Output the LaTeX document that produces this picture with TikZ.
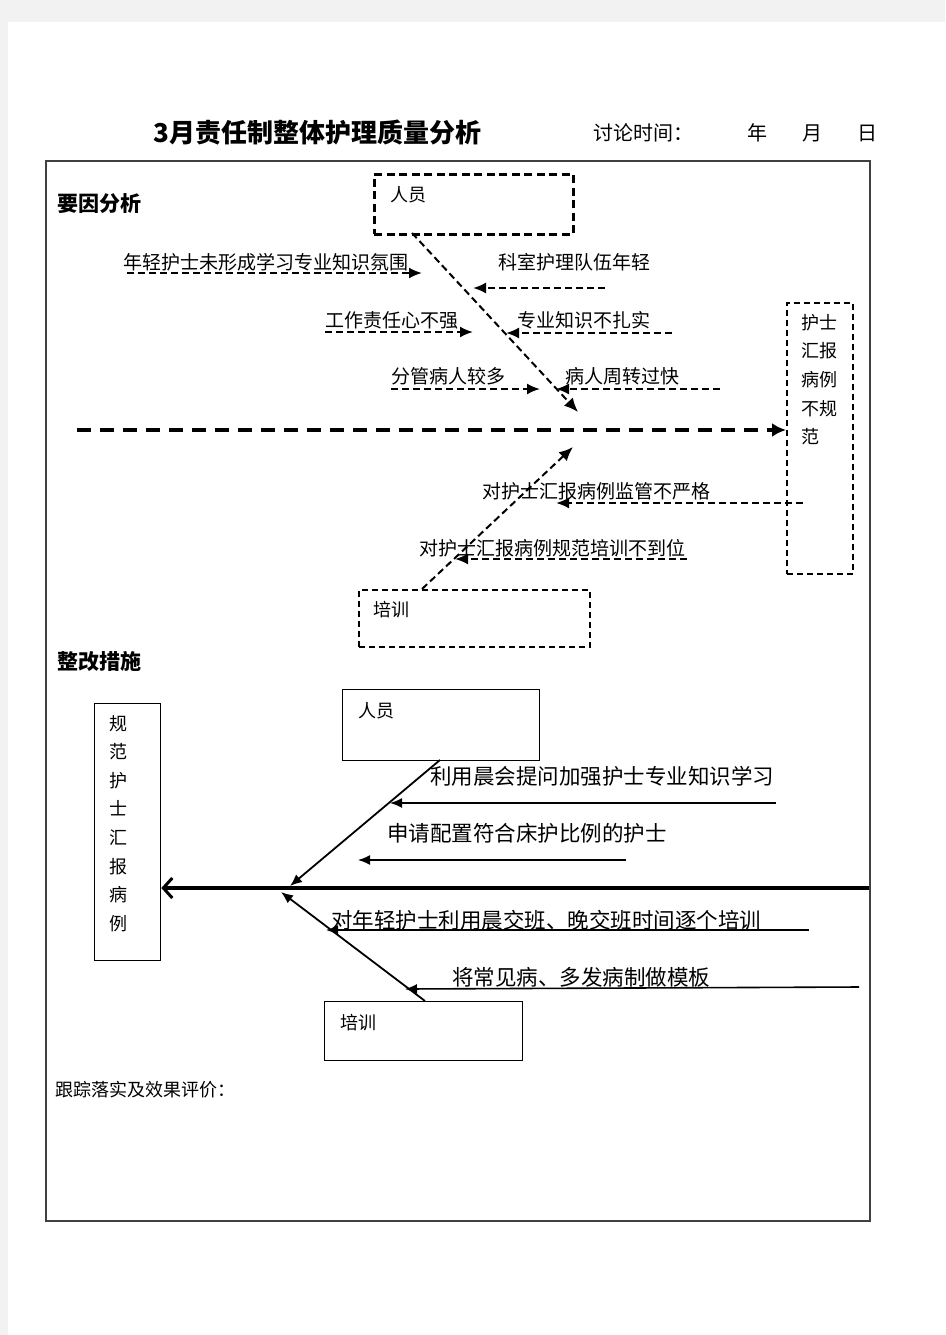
\documentclass[tikz,border=0pt]{standalone}
\usepackage{fontspec}
\setmainfont{Noto Sans CJK SC}
\usetikzlibrary{arrows.meta}
\newcommand\fsz[1]{\fontsize{#1}{#1}\selectfont}
\begin{document}
\begin{tikzpicture}[x=1pt,y={(0pt,-1pt)},
  lbl/.style={anchor=west,inner sep=0pt,font=\fsz{19}},
  lblb/.style={anchor=west,inner sep=0pt,font=\fsz{21.5}},
  head/.style={anchor=west,inner sep=0pt,font=\bfseries\fsz{21}},
  boxd/.style={draw,line width=2.6pt,dash pattern=on 8pt off 4.5pt,anchor=north west,inner sep=0pt},
  boxt/.style={draw,line width=1.6pt,dash pattern=on 6pt off 4pt,anchor=north west,inner sep=0pt},
  boxs/.style={draw,line width=1.3pt,anchor=north west,inner sep=0pt},
  tdash/.style={line width=2pt,dash pattern=on 7pt off 4pt},
  dtip/.style={-{Latex[length=14pt,width=12pt]}},
  stip/.style={-{Latex[length=13pt,width=11pt]}},
  ltip/.style={-{Latex[length=12pt,width=10pt]}}]
\useasboundingbox (0,0) rectangle (945,1335);
\fill[black!5] (0,0) rectangle (945,1335);
\fill[white] (8,22) rectangle (945,1335);
% frame
\node[draw=black!75,line width=1.5pt,minimum width=824pt,minimum height=1060pt,anchor=north west,inner sep=0pt] (frame) at (45,160) {};
% title
\node[anchor=west,inner sep=0pt,font=\bfseries\fsz{26}] (title) at (153,133) {3月责任制整体护理质量分析};
\node[anchor=west,inner sep=0pt,font=\fsz{20}] (time) at (593,133) {讨论时间：};
\node[anchor=west,inner sep=0pt,font=\fsz{20}] (yr) at (747,133) {年};
\node[anchor=west,inner sep=0pt,font=\fsz{20}] (mo) at (802,133) {月};
\node[anchor=west,inner sep=0pt,font=\fsz{20}] (dy) at (857,133) {日};
% ===== top section
\node[head] (h1) at (57,204) {要因分析};
\node[boxd,minimum width=199pt,minimum height=60pt] (pbox) at (373,173) {};
\node[anchor=west,inner sep=0pt,font=\fsz{18}] (ptxt) at (390,195) {人员};
\node[boxt,minimum width=66pt,minimum height=271pt] (eff) at (786,302) {};
\node[anchor=north west,inner sep=0pt,align=left,font=\fontsize{18}{28.6}\selectfont] (efftxt) at (801,314) {护士\\汇报\\病例\\不规\\范};
\node[boxt,line width=2pt,minimum width=231pt,minimum height=57pt] (tbox) at (358,589) {};
\node[anchor=west,inner sep=0pt,font=\fsz{18}] (ttxt) at (373,610) {培训};
% spine
\coordinate (sp0) at (77,430);
\draw[line width=4pt,dash pattern=on 14pt off 9pt,-{Latex[length=14pt,width=14pt]}] (sp0) -- (sp0 -| eff.west);
% people branch
\coordinate (pa) at (412,233);
\coordinate (pb) at (578,412);
\draw[tdash,dtip] (pa) -- (pb);
% training branch
\coordinate (ta) at (422,589);
\coordinate (tb) at (573,447);
\draw[tdash,dtip] (ta) -- (tb);
% cause labels
\node[lbl] (c1) at (123,262) {年轻护士未形成学习专业知识氛围};
\coordinate (c1a) at (127,273); \coordinate (c1b) at (422,273);
\draw[tdash,stip] (c1a) -- (c1b);
\node[lbl] (c2) at (498,262) {科室护理队伍年轻};
\coordinate (c2a) at (605,288); \coordinate (c2b) at (473,288);
\draw[tdash,stip] (c2a) -- (c2b);
\node[lbl] (c3) at (325,320) {工作责任心不强};
\coordinate (c3a) at (325,332); \coordinate (c3b) at (473,332);
\draw[tdash,stip] (c3a) -- (c3b);
\node[lbl] (c4) at (517,320) {专业知识不扎实};
\coordinate (c4a) at (672,333); \coordinate (c4b) at (506,333);
\draw[tdash,stip] (c4a) -- (c4b);
\node[lbl] (c5) at (391,376) {分管病人较多};
\coordinate (c5a) at (391,389); \coordinate (c5b) at (540,389);
\draw[tdash,stip] (c5a) -- (c5b);
\node[lbl] (c6) at (565,376) {病人周转过快};
\coordinate (c6a) at (720,389); \coordinate (c6b) at (556,389);
\draw[tdash,stip] (c6a) -- (c6b);
\node[lbl] (c7) at (482,491) {对护士汇报病例监管不严格};
\coordinate (c7a) at (803,503); \coordinate (c7b) at (556,503);
\draw[tdash,stip] (c7a) -- (c7b);
\node[lbl] (c8) at (419,548) {对护士汇报病例规范培训不到位};
\coordinate (c8a) at (687,559); \coordinate (c8b) at (455,559);
\draw[tdash,stip] (c8a) -- (c8b);
% ===== bottom section
\node[head] (h2) at (57,662) {整改措施};
\node[boxs,minimum width=66pt,minimum height=257pt] (goal) at (94,703) {};
\node[anchor=north west,inner sep=0pt,align=left,font=\fontsize{18}{28.6}\selectfont] (goaltxt) at (109,715) {规\\范\\护\\士\\汇\\报\\病\\例};
\node[boxs,minimum width=197pt,minimum height=71pt] (pbox2) at (342,689) {};
\node[anchor=west,inner sep=0pt,font=\fsz{18}] (ptxt2) at (358,711) {人员};
\node[boxs,minimum width=198pt,minimum height=59pt] (tbox2) at (324,1001) {};
\node[anchor=west,inner sep=0pt,font=\fsz{18}] (ttxt2) at (340,1023) {培训};
% spine
\coordinate (sp1) at (869,888);
\draw[line width=4pt,-{Straight Barb[length=9pt,width=20pt,line width=3pt]}] (sp1) -- (sp1 -| goal.east);
% branches
\coordinate (qa) at (440,760); \coordinate (qb) at (290,886);
\draw[line width=1.8pt,ltip] (qa) -- (qb);
\coordinate (ra) at (425,1001); \coordinate (rb) at (281,892);
\draw[line width=1.8pt,ltip] (ra) -- (rb);
% measures
\node[lblb] (m1) at (430,776) {利用晨会提问加强护士专业知识学习};
\coordinate (m1a) at (776,803); \coordinate (m1b) at (390,803);
\draw[line width=1.6pt,ltip] (m1a) -- (m1b);
\node[lblb] (m2) at (387,833) {申请配置符合床护比例的护士};
\coordinate (m2a) at (626,860); \coordinate (m2b) at (358,860);
\draw[line width=1.6pt,ltip] (m2a) -- (m2b);
\node[lblb] (m3) at (331,920) {对年轻护士利用晨交班、晚交班时间逐个培训};
\coordinate (m3a) at (809,930); \coordinate (m3b) at (326,930);
\draw[line width=1.6pt,ltip] (m3a) -- (m3b);
\node[lblb] (m4) at (452,977) {将常见病、多发病制做模板};
\coordinate (m4a) at (859,987); \coordinate (m4b) at (405,989);
\draw[line width=1.6pt,ltip] (m4a) -- (m4b);
% tracking
\node[anchor=west,inner sep=0pt,font=\fsz{18}] (track) at (55,1090) {跟踪落实及效果评价：};
\end{tikzpicture}
\end{document}
